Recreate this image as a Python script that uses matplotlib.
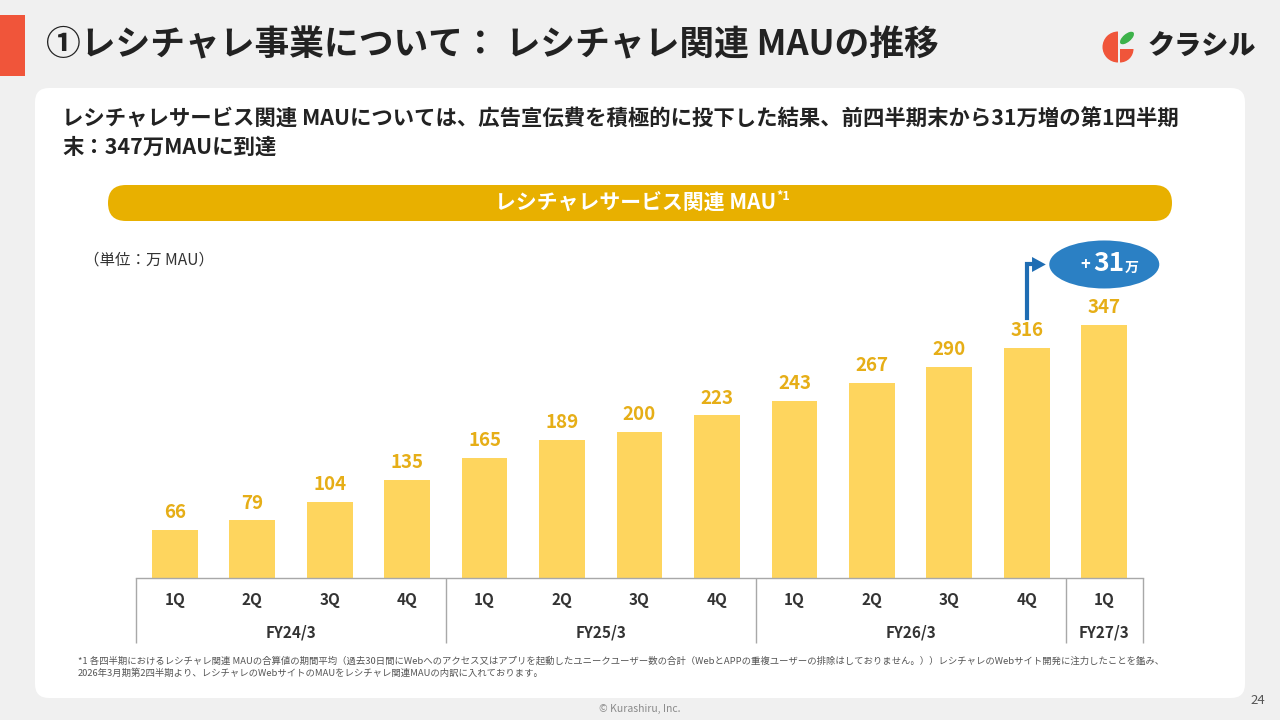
import matplotlib
matplotlib.use("Agg")
import matplotlib.pyplot as plt
from matplotlib.patches import FancyBboxPatch, Ellipse, Wedge, Rectangle
import numpy as np

plt.rcParams['font.family'] = ['Noto Sans CJK JP', 'DejaVu Sans']

# ---------------- data ----------------
quarters = ["1Q", "2Q", "3Q", "4Q", "1Q", "2Q", "3Q", "4Q", "1Q", "2Q", "3Q", "4Q", "1Q"]
values = [66, 79, 104, 135, 165, 189, 200, 223, 243, 267, 290, 316, 347]
fiscal_years = ["FY24/3", "FY25/3", "FY26/3", "FY27/3"]
fy_sizes = [4, 4, 4, 1]

title = "①レシチャレ事業について： レシチャレ関連 MAUの推移"
sub1 = "レシチャレサービス関連 MAUについては、広告宣伝費を積極的に投下した結果、前四半期末から31万増の第1四半期"
sub2 = "末：347万MAUに到達"
banner = "レシチャレサービス関連 MAU"
unit = "（単位：万 MAU）"
foot1 = ("*1 各四半期におけるレシチャレ関連 MAUの合算値の期間平均（過去30日間にWebへのアクセス又はアプリを起動したユニークユーザー数の合計"
         "（WebとAPPの重複ユーザーの排除はしておりません。））レシチャレのWebサイト開発に注力したことを鑑み、")
foot2 = "2026年3月期第2四半期より、レシチャレのWebサイトのMAUをレシチャレ関連MAUの内訳に入れております。"

# ---------------- styles ----------------
BG = "#f0f0f0"
RED = "#f0553a"
GOLD = "#e8b000"
BAR = "#fed55e"
LABEL = "#e6ae17"
DARK = "#222222"
LINE = "#a8a8a8"
BLUE = "#2b80c4"
BLUE_D = "#1f6db3"

fig = plt.figure(figsize=(12.8, 7.2), dpi=100)
fig.patch.set_facecolor(BG)

bg = fig.add_axes([0, 0, 1, 1])
bg.set_xlim(0, 1280)
bg.set_ylim(720, 0)
bg.axis("off")

# red accent bar
bg.add_patch(Rectangle((0, 15), 25, 61, color=RED, lw=0))
bg.text(46, 45, title, fontsize=25, fontweight="bold", color=DARK, va="center", ha="left")

# logo
bg.add_patch(Wedge((1118, 47), 15.5, 90, 270, color="#f0553a", lw=0))
bg.add_patch(Wedge((1120, 49), 13.5, 0, 90, color="#f0553a", lw=0))
bg.add_patch(Ellipse((1127, 38), 17, 8, angle=-40, color="#3db24a", lw=0))
bg.text(1148, 47, "クラシル", fontsize=19.5, fontweight="heavy", color="#222222",
        va="center", ha="left", style="italic")

# white panel
bg.add_patch(FancyBboxPatch((35, 88), 1210, 610, boxstyle="round,pad=0,rounding_size=14",
                            facecolor="white", edgecolor="none"))

bg.text(62, 119, sub1, fontsize=15.4, fontweight="bold", color=DARK, va="center", ha="left")
bg.text(62, 147, sub2, fontsize=15.4, fontweight="bold", color=DARK, va="center", ha="left")

# banner
bg.add_patch(FancyBboxPatch((108, 185), 1064, 36, boxstyle="round,pad=0,rounding_size=18",
                            facecolor=GOLD, edgecolor="none"))
bg.text(776, 203, banner, fontsize=15, fontweight="bold", color="white", va="center", ha="right")
bg.text(776, 196, "*1", fontsize=9, fontweight="bold", color="white", va="center", ha="left")

bg.text(84, 260, unit, fontsize=11.2, color="#333333", va="center", ha="left")

bg.text(78, 661, foot1, fontsize=6.75, color="#555555", va="center", ha="left")
bg.text(78, 673, foot2, fontsize=6.75, color="#555555", va="center", ha="left")
bg.text(640, 709, "© Kurashiru, Inc.", fontsize=7.5, color="#8a8a8a", va="center", ha="center")
bg.text(1258, 700, "24", fontsize=9.5, color="#555555", va="center", ha="center")

# ---------------- chart ----------------
ax = fig.add_axes([136 / 1280, (720 - 578) / 720, 1007 / 1280, 358 / 720])
ax.set_facecolor("none")
ax.set_xlim(-0.5, len(values) - 0.5)
ax.set_ylim(0, 491)
ax.axis("off")

x = np.arange(len(values))
ax.bar(x, values, width=0.59, color=BAR, lw=0)

for i, v in enumerate(values):
    ax.annotate(str(v), (i, v), xytext=(0, 12.5), textcoords="offset points",
                ha="center", va="center", fontsize=13.5, fontweight="bold", color=LABEL)

# category table
ax.axhline(0, color=LINE, lw=1, clip_on=False)
bounds = -0.5 + np.concatenate([[0], np.cumsum(fy_sizes)])
ax.vlines(bounds, -65 / 358, 0, transform=ax.get_xaxis_transform(), color=LINE, lw=1, clip_on=False)
for i, q in enumerate(quarters):
    ax.annotate(q, (i, 0), xycoords=("data", "axes fraction"), xytext=(0, -16),
                textcoords="offset points", ha="center", va="center",
                fontsize=11, fontweight="bold", color="#333333", annotation_clip=False)
for k, fy in enumerate(fiscal_years):
    cx = (bounds[k] + bounds[k + 1]) / 2
    ax.annotate(fy, (cx, 0), xycoords=("data", "axes fraction"), xytext=(0, -39),
                textcoords="offset points", ha="center", va="center",
                fontsize=11, fontweight="semibold", color="#333333", annotation_clip=False)

# growth callout
diff = values[-1] - values[-2]
ey = values[-1] + 83
ax.add_patch(Ellipse((len(values) - 1, ey), 110 / 77.46, 48 / 0.729, color=BLUE, lw=0,
                     zorder=3, clip_on=False))
xa = len(values) - 2
ax.plot([xa, xa, xa + 0.13], [values[-2] + 40, ey, ey], color=BLUE_D, lw=3,
        solid_joinstyle="miter", zorder=3, clip_on=False)
ax.annotate("", xy=(xa + 0.245, ey), xytext=(xa + 0.12, ey),
            arrowprops=dict(arrowstyle="-|>,head_length=0.55,head_width=0.3", color=BLUE_D,
                            lw=0, mutation_scale=18, shrinkA=0, shrinkB=0),
            zorder=4, annotation_clip=False)
cx = len(values) - 1
ax.annotate("+", (cx, ey), xytext=(-14, -0.5), textcoords="offset points", ha="center",
            va="center", fontsize=12, fontweight="bold", color="white", zorder=5,
            annotation_clip=False)
ax.annotate(str(diff), (cx, ey), xytext=(3, 0.5), textcoords="offset points", ha="center",
            va="center", fontsize=19, fontweight="bold", color="white", zorder=5,
            annotation_clip=False)
ax.annotate("万", (cx, ey), xytext=(20, -2.5), textcoords="offset points", ha="center",
            va="center", fontsize=10, fontweight="bold", color="white", zorder=5,
            annotation_clip=False)

fig.savefig("out.png", dpi=100, facecolor=fig.get_facecolor())
